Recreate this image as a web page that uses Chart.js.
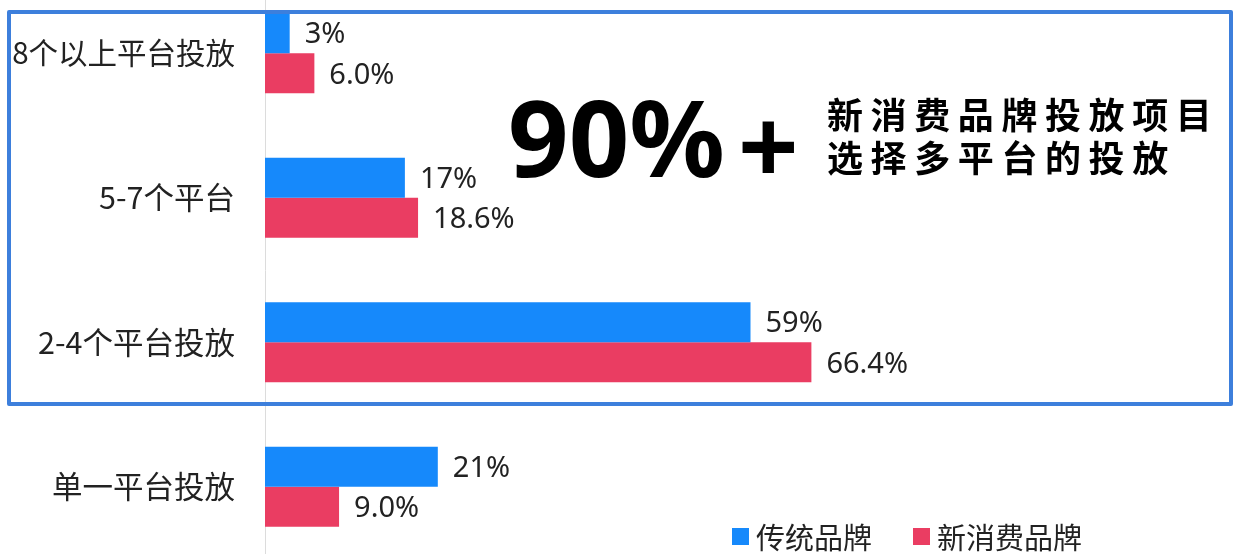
<!DOCTYPE html>
<html>
<head>
<meta charset="utf-8">
<script src="https://cdn.jsdelivr.net/npm/chart.js@4.4.0/dist/chart.umd.min.js"></script>
<style>
    html, body { margin: 0; padding: 0; background: #fff; overflow: hidden; }
    body { width: 1236px; height: 554px; position: relative; }
    #chart { position: absolute; left: 0; top: -20px; }
    .box {
        position: absolute; left: 7px; top: 10px; width: 1218px; height: 388px;
        border: 4px solid #3d7fdc; border-radius: 2px;
    }
    .big {
        position: absolute; left: 508px; top: 66px;
        font-family: "Noto Sans", sans-serif; font-weight: 700; font-size: 106px;
        line-height: 140px; color: #000; white-space: nowrap;
    }
    .plus {
        position: absolute; left: 738px; top: 74px;
        font-family: "Noto Sans", sans-serif; font-weight: 700; font-size: 106px;
        line-height: 140px; color: #000;
    }
    .note {
        position: absolute; left: 827px; top: 92px;
        font-family: "Noto Sans CJK SC", sans-serif; font-weight: 700; font-size: 36px;
        line-height: 43px; letter-spacing: 7.6px; color: #000; white-space: nowrap;
    }
</style>
</head>
<body>
<canvas id="chart" width="1236" height="580"></canvas>
<div class="box"></div>
<div class="big">90%</div>
<div class="plus">+</div>
<div class="note">新消费品牌投放项目<br>选择多平台的投放</div>
<script>
const categories = ['8个以上平台投放', '5-7个平台', '2-4个平台投放', '单一平台投放'];
const seriesNames = ['传统品牌', '新消费品牌'];
const traditional = [3, 17, 59, 21];
const newBrands = [6.0, 18.6, 66.4, 9.0];
const traditionalLabels = ['3%', '17%', '59%', '21%'];
const newBrandLabels = ['6.0%', '18.6%', '66.4%', '9.0%'];
const colors = ['#1689fb', '#ea3d62'];

// value labels at the end of each bar
const valueLabels = {
    id: 'valueLabels',
    afterDatasetsDraw(chart) {
        const ctx = chart.ctx;
        ctx.save();
        ctx.font = '29px "Noto Sans", sans-serif';
        ctx.fillStyle = '#222';
        ctx.textBaseline = 'middle';
        ctx.textAlign = 'left';
        chart.data.datasets.forEach((ds, i) => {
            chart.getDatasetMeta(i).data.forEach((bar, j) => {
                ctx.fillText(ds.valueLabels[j], bar.x + 15, bar.y + 2);
            });
        });
        ctx.restore();
    }
};

// legend drawn bottom right
const bottomLegend = {
    id: 'bottomLegend',
    afterDraw(chart) {
        const ctx = chart.ctx;
        ctx.save();
        ctx.font = '29px "Noto Sans CJK SC", sans-serif';
        ctx.textBaseline = 'middle';
        let x = 732;
        const y = 557;
        chart.data.datasets.forEach(ds => {
            ctx.fillStyle = ds.backgroundColor;
            ctx.fillRect(x, y - 9, 17, 17);
            ctx.fillStyle = '#222';
            ctx.fillText(ds.label, x + 24, y + 1);
            x += 24 + ctx.measureText(ds.label).width + 41;
        });
        ctx.restore();
    }
};

new Chart(document.getElementById('chart'), {
    type: 'bar',
    data: {
        labels: categories,
        datasets: [
            {
                label: seriesNames[0],
                data: traditional,
                valueLabels: traditionalLabels,
                backgroundColor: colors[0],
                categoryPercentage: 0.555,
                barPercentage: 1.0
            },
            {
                label: seriesNames[1],
                data: newBrands,
                valueLabels: newBrandLabels,
                backgroundColor: colors[1],
                categoryPercentage: 0.555,
                barPercentage: 1.0
            }
        ]
    },
    options: {
        indexAxis: 'y',
        responsive: false,
        animation: false,
        layout: { padding: { top: 1, bottom: 1, left: 0, right: 0 } },
        scales: {
            x: { display: false, min: 0, max: 118 },
            y: {
                grid: { display: false, drawTicks: false },
                border: { display: true, color: '#dcdcdc', width: 1 },
                ticks: {
                    color: '#222',
                    padding: 30,
                    // longest label is a touch smaller so it clears the frame
                    font: c => ({ family: '"Noto Sans CJK SC", sans-serif', size: c.index === 0 ? 29.5 : 30.5 })
                },
                afterFit: scale => {
                    scale.width = 265;
                    scale.paddingTop = 0;
                    scale.paddingBottom = 0;
                }
            }
        },
        plugins: {
            legend: { display: false },
            tooltip: { enabled: false }
        }
    },
    plugins: [valueLabels, bottomLegend]
});
</script>
</body>
</html>
